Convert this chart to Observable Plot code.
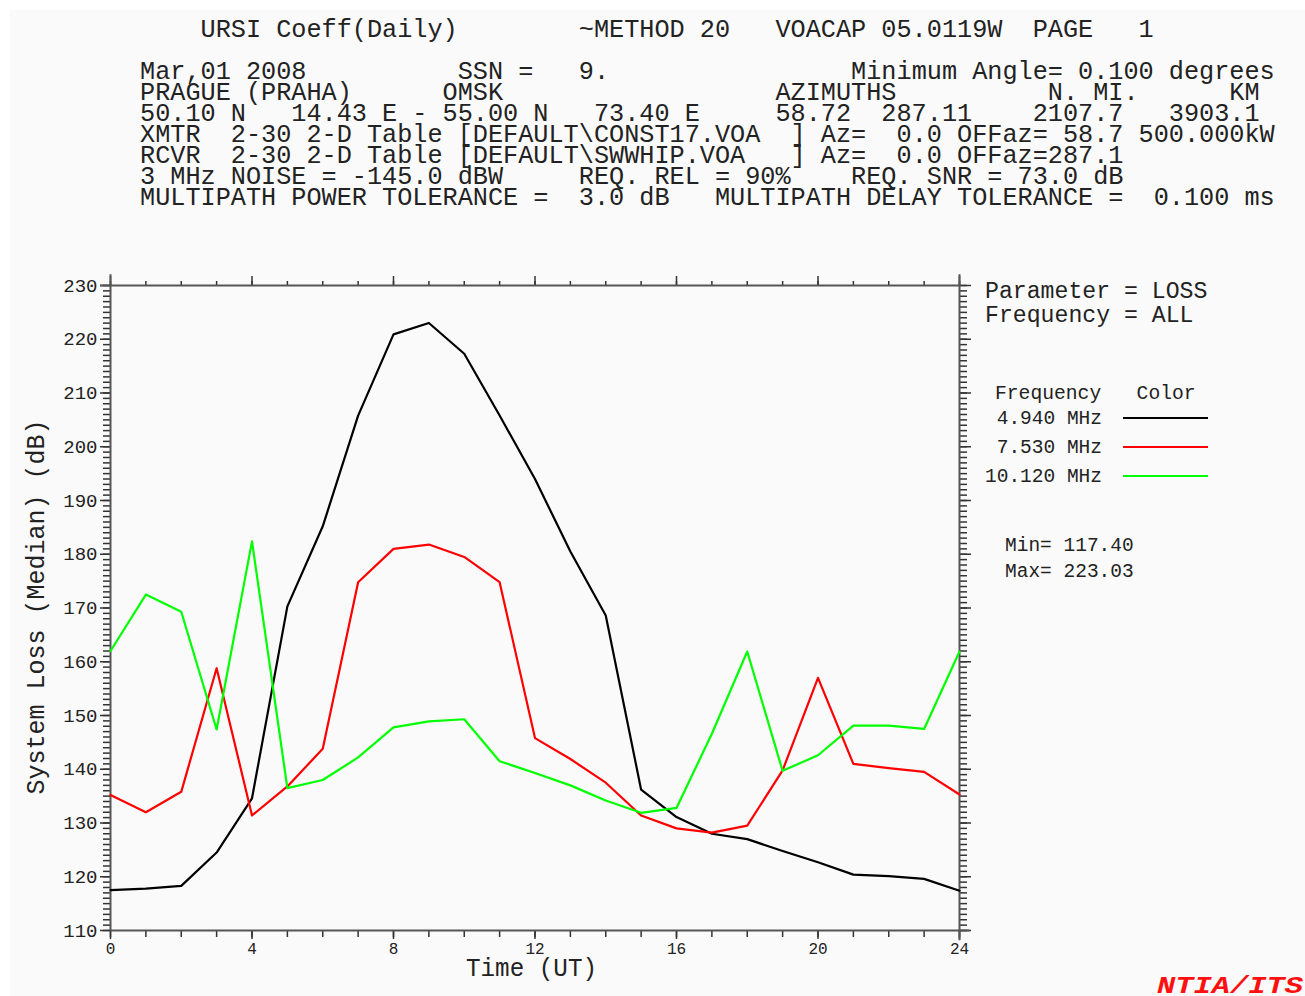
<!DOCTYPE html>
<html><head><meta charset="utf-8">
<script src="https://cdn.jsdelivr.net/npm/d3@7"></script>
<script src="https://cdn.jsdelivr.net/npm/@observablehq/plot@0.6"></script>
<style>
html,body{margin:0;padding:0;background:#fff;}
#page{position:relative;width:1305px;height:996px;overflow:hidden;background:#fff;}
#panel{position:absolute;left:10px;top:10px;right:0;bottom:0;background:#fafafa;}
#chart{position:absolute;left:0;top:250px;}
#overlay{position:absolute;left:0;top:0;}
svg text{font-family:"Liberation Mono",monospace;}
</style></head><body>
<div id="page"><div id="panel"></div><div id="chart"></div><svg id="overlay" width="1305" height="996"></svg></div>
<script>
// ---- data ----
const hours = [0,1,2,3,4,5,6,7,8,9,10,11,12,13,14,15,16,17,18,19,20,21,22,23,24];
const freqLabels = ["4.940 MHz","7.530 MHz","10.120 MHz"];
const seriesColors = ["#000000","#ff0000","#00ff00"];
const loss494 = [117.5,117.8,118.3,124.5,134.6,170.3,185.2,205.8,220.9,223.03,217.3,205.8,194.0,180.5,168.6,136.2,131.1,128.0,127.0,124.8,122.7,120.4,120.1,119.6,117.4];
const loss753 = [135.2,132.0,135.8,158.8,131.4,136.8,143.8,174.8,181.0,181.8,179.5,174.8,145.8,141.9,137.5,131.4,129.0,128.2,129.5,139.8,157.0,141.0,140.2,139.5,135.3];
const loss1012 = [162.0,172.5,169.3,147.4,182.4,136.5,138.0,142.2,147.8,148.9,149.3,141.5,139.3,137.0,134.2,131.9,132.8,146.6,161.9,139.7,142.6,148.1,148.1,147.5,161.9];
const yMajor = [110,120,130,140,150,160,170,180,190,200,210,220,230];
const xMajor = [0,4,8,12,16,20,24];

// header lines as [character column, text] pairs (fixed-width report)
const headerTitle = [[4,"URSI Coeff(Daily)"],[29,"~METHOD 20"],[42,"VOACAP 05.0119W"],[59,"PAGE"],[66,"1"]];
const headerLines = [
  [[0,"Mar,01 2008"],[21,"SSN ="],[29,"9."],[47,"Minimum Angle= 0.100 degrees"]],
  [[0,"PRAGUE (PRAHA)"],[20,"OMSK"],[42,"AZIMUTHS"],[60,"N. MI."],[72,"KM"]],
  [[0,"50.10 N"],[10,"14.43 E - 55.00 N"],[30,"73.40 E"],[42,"58.72"],[49,"287.11"],[59,"2107.7"],[68,"3903.1"]],
  [[0,"XMTR"],[6,"2-30 2-D Table"],[21,"[DEFAULT\\CONST17.VOA"],[43,"] Az="],[50,"0.0 OFFaz= 58.7"],[66,"500.000kW"]],
  [[0,"RCVR"],[6,"2-30 2-D Table"],[21,"[DEFAULT\\SWWHIP.VOA"],[43,"] Az="],[50,"0.0 OFFaz=287.1"]],
  [[0,"3 MHz NOISE = -145.0 dBW"],[29,"REQ. REL = 90%"],[47,"REQ. SNR = 73.0 dB"]],
  [[0,"MULTIPATH POWER TOLERANCE ="],[29,"3.0 dB"],[38,"MULTIPATH DELAY TOLERANCE ="],[67,"0.100 ms"]]
];
const paramLines = ["Parameter = LOSS","Frequency = ALL"];
const legendHead = "Frequency   Color";
const minMaxLines = ["Min= 117.40","Max= 223.03"];
const yTitle = "System Loss (Median) (dB)";
const xTitle = "Time (UT)";
const credit = "NTIA/ITS";

// ---- table ----
const seriesVals = [loss494, loss753, loss1012];
const table = [];
freqLabels.forEach((f, i) => hours.forEach((h, j) => table.push({hour: h, loss: seriesVals[i][j], freq: f})));
const yMinor = d3.range(110, 231, 1);
const xMinor = d3.range(0, 25, 1);
const blank = () => "";

const chart = Plot.plot({
  width: 1000, height: 746,
  marginLeft: 110, marginRight: 41, marginTop: 35, marginBottom: 66,
  x: {domain: [0, 24]},
  y: {domain: [110, 230]},
  color: {domain: freqLabels, range: seriesColors},
  style: {background: "transparent", fontFamily: "Liberation Mono, monospace", color: "#333", overflow: "visible"},
  marks: [
    Plot.axisY({anchor: "left", ticks: yMinor, tickSize: 7, tickFormat: blank, label: null, strokeWidth: 1.5}),
    Plot.axisY({anchor: "left", ticks: yMajor, tickSize: 10, tickPadding: 3, fontSize: 19, label: null, strokeWidth: 1.5, fill: "#222"}),
    Plot.axisY({anchor: "right", ticks: yMinor, tickSize: 7, tickFormat: blank, label: null, strokeWidth: 1.5}),
    Plot.axisY({anchor: "right", ticks: yMajor, tickSize: 11, tickFormat: blank, label: null, strokeWidth: 1.5}),
    Plot.axisX({anchor: "bottom", ticks: xMinor, tickSize: 7, tickFormat: blank, label: null, strokeWidth: 1.5}),
    Plot.axisX({anchor: "bottom", ticks: xMajor, tickSize: 9, tickPadding: 3, fontSize: 16, label: null, strokeWidth: 1.5, fill: "#222"}),
    Plot.axisX({anchor: "top", ticks: xMinor, tickSize: 5, tickFormat: blank, label: null, strokeWidth: 1.5}),
    Plot.axisX({anchor: "top", ticks: xMajor, tickSize: 10, tickFormat: blank, label: null, strokeWidth: 1.5}),
    Plot.ruleX([0], {y1: 110, y2: 232, stroke: "#555", strokeWidth: 2}),
    Plot.ruleX([24], {y1: 108.1, y2: 232, stroke: "#555", strokeWidth: 2}),
    Plot.ruleY([230], {x1: -0.28, x2: 24, stroke: "#555", strokeWidth: 2}),
    Plot.ruleY([110], {x1: 0, x2: 24.3, stroke: "#555", strokeWidth: 2}),
    Plot.line(table, {x: "hour", y: "loss", z: "freq", stroke: "freq", strokeWidth: 2.2})
  ]
});
document.getElementById("chart").appendChild(chart);

// ---- overlay text ----
const ov = d3.select("#overlay");
function tok(str, x, y, w, size, fill) {
  ov.append("text").attr("x", x).attr("y", y)
    .attr("font-size", size).attr("fill", fill || "#222")
    .attr("textLength", w).attr("lengthAdjust", "spacingAndGlyphs")
    .text(str);
}
function colLine(pairs, x0, y, cw, size) {
  pairs.forEach(([c, s]) => tok(s, x0 + c * cw, y, s.length * cw, size));
}
function monoLine(str, x0, y, cw, size) {
  const re = /\S+/g; let m;
  while ((m = re.exec(str)) !== null) tok(m[0], x0 + m.index * cw, y, m[0].length * cw, size);
}
const hcw = 15.13;
colLine(headerTitle, 140, 37, hcw, 25);
headerLines.forEach((p, i) => colLine(p, 140, 79 + i * 21, hcw, 25));

paramLines.forEach((s, i) => monoLine(s, 985, 298 + i * 24, 13.9, 23));
monoLine(legendHead, 995, 399, 11.8, 19.5);
const legY = [424, 453, 482];
freqLabels.forEach((f, i) => {
  const s = f.length < 10 ? " " + f : f;
  monoLine(s, 985, legY[i], 11.7, 19.5);
  ov.append("line").attr("x1", 1123).attr("x2", 1208).attr("y1", legY[i] - 6).attr("y2", legY[i] - 6)
    .attr("stroke", seriesColors[i]).attr("stroke-width", 2);
});
minMaxLines.forEach((s, i) => monoLine(s, 1005, 551 + i * 26, 11.7, 19.5));

ov.append("text").attr("transform", "translate(44,607) rotate(-90)")
  .attr("text-anchor", "middle").attr("font-size", 25).attr("fill", "#222")
  .attr("textLength", 375).attr("lengthAdjust", "spacingAndGlyphs").text(yTitle);
ov.append("text").attr("x", 466).attr("y", 976).attr("font-size", 25).attr("fill", "#222")
  .attr("textLength", 131).attr("lengthAdjust", "spacingAndGlyphs").text(xTitle);
ov.append("text").attr("x", 1157).attr("y", 993).attr("font-size", 24)
  .attr("font-weight", "bold").attr("font-style", "italic").attr("fill", "#ff1010")
  .attr("textLength", 146).attr("lengthAdjust", "spacingAndGlyphs").text(credit);
</script></body></html>
